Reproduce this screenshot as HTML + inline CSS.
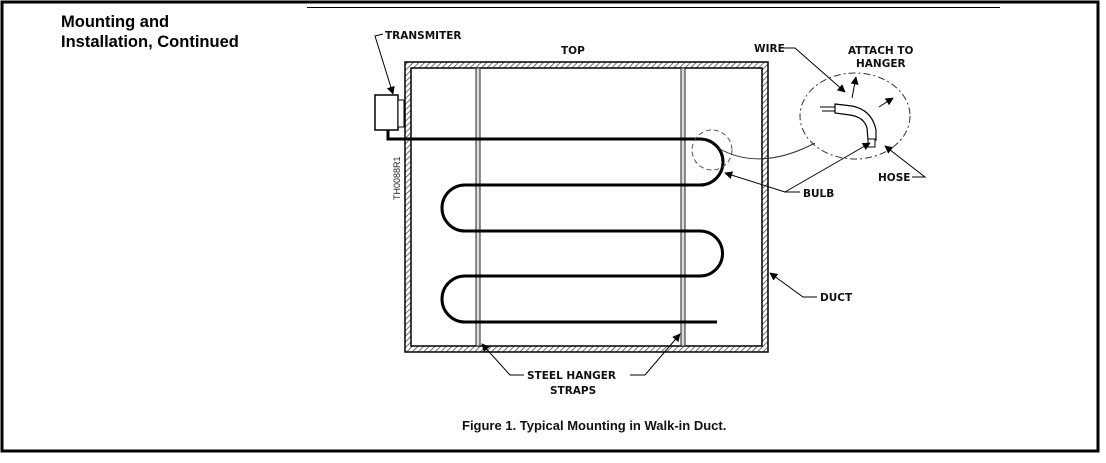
<!DOCTYPE html>
<html><head><meta charset="utf-8"><style>
html,body{margin:0;padding:0;background:#fff;}
body{width:1106px;height:458px;overflow:hidden;position:relative;font-family:"Liberation Sans",sans-serif;}
</style></head><body>
<svg width="1106" height="458" viewBox="0 0 1106 458" xmlns="http://www.w3.org/2000/svg">
<defs>
<pattern id="h" width="4" height="4" patternUnits="userSpaceOnUse" patternTransform="rotate(45)">
<rect width="4" height="4" fill="#fff"/><line x1="0" y1="0" x2="0" y2="4" stroke="#444" stroke-width="1.5"/>
</pattern>
<marker id="a" viewBox="0 0 10 10" refX="9" refY="5" markerWidth="16" markerHeight="8" orient="auto" markerUnits="userSpaceOnUse">
<path d="M0,0 L10,5 L0,10 z" fill="#000"/></marker>
</defs>
<rect x="2" y="2" width="1096" height="449" fill="none" stroke="#000" stroke-width="3"/>
<line x1="307" y1="7.5" x2="1000" y2="7.5" stroke="#000" stroke-width="1"/>
<text x="61" y="27" font-size="16.5" font-weight="bold" fill="#000">Mounting and</text>
<text x="61" y="47" font-size="16.5" font-weight="bold" fill="#000">Installation, Continued</text>

<path d="M405,62 H768 V352 H405 Z M411,68 V346 H762 V68 Z" fill="url(#h)" fill-rule="evenodd" stroke="#000" stroke-width="1.5"/>
<rect x="476" y="68" width="4" height="278" fill="#ddd" stroke="#222" stroke-width="1"/>
<rect x="681" y="68" width="4" height="278" fill="#ddd" stroke="#222" stroke-width="1"/>
<rect x="375" y="95" width="23" height="35" fill="#fff" stroke="#000" stroke-width="1.5"/>
<rect x="398" y="100" width="6" height="27" fill="#fff" stroke="#000" stroke-width="1"/>
<path d="M388,130 V139 H700 A23,23 0 0 1 700,185 H465 A23,23 0 0 0 465,231 H700 A22,22 0 0 1 700,276 H465 A23,23 0 0 0 465,322 H717" fill="none" stroke="#000" stroke-width="3"/>
<circle cx="712" cy="150" r="20" fill="none" stroke="#555" stroke-width="1" stroke-dasharray="5,3"/>
<ellipse cx="855" cy="116" rx="55" ry="43" fill="none" stroke="#333" stroke-width="1" stroke-dasharray="7,3,2,3"/>
<path d="M718,148 Q760,172 815,143" fill="none" stroke="#333" stroke-width="1"/>
<path d="M820,107 H835 M822,111 H835" stroke="#000" stroke-width="1"/>
<path d="M835,104 L852,106 Q872,110 876,130 L876,140 L868,140 L867,128 Q864,117 850,115 L835,113 Z" fill="#fff" stroke="#000" stroke-width="1.2"/>
<rect x="868" y="139" width="7" height="8" fill="#fff" stroke="#000" stroke-width="1"/>
<g font-family="'DejaVu Sans',sans-serif" font-weight="bold" font-size="10.5" fill="#111">
<text x="385" y="39">TRANSMITER</text>
<text x="561" y="54">TOP</text>
<text x="754" y="52">WIRE</text>
<text x="848" y="54">ATTACH TO</text>
<text x="856" y="67">HANGER</text>
<text x="878" y="181">HOSE</text>
<text x="803" y="197">BULB</text>
<text x="820" y="301">DUCT</text>
<text x="527" y="379">STEEL HANGER</text>
<text x="550" y="394">STRAPS</text>
</g>
<text x="0" y="0" font-size="9" fill="#222" transform="translate(400,200) rotate(-90)">TH0088R1</text>
<text x="462" y="430" font-size="13" font-weight="bold" fill="#111">Figure 1. Typical Mounting in Walk-in Duct.</text>
<g fill="none" stroke="#000" stroke-width="1">
<path d="M383,34 L375,36 L393,94" marker-end="url(#a)"/>
<path d="M783,48 L795,48 L845,92" marker-end="url(#a)"/>
<path d="M852,98 L856,77" marker-end="url(#a)"/>
<path d="M879,107 L893,98" marker-end="url(#a)"/>
<path d="M800,192 L785,192 L725,173" marker-end="url(#a)"/>
<path d="M785,192 L870,143" marker-end="url(#a)"/>
<path d="M912,177 L925,177 L885,146" marker-end="url(#a)"/>
<path d="M817,297 L803,297 L770,273" marker-end="url(#a)"/>
<path d="M524,375 L510,375 L482,344" marker-end="url(#a)"/>
<path d="M630,375 L645,375 L680,334" marker-end="url(#a)"/>
</g>
</svg>
</body></html>
